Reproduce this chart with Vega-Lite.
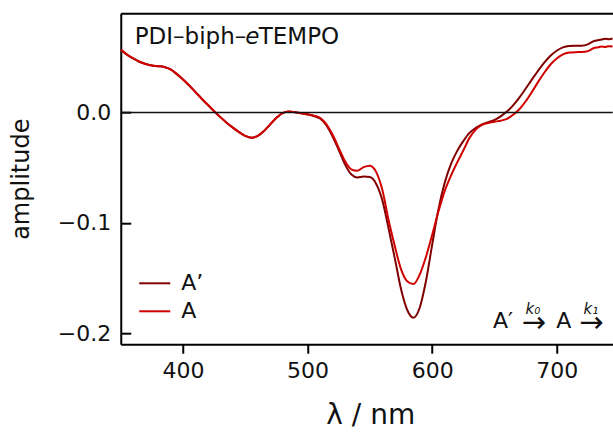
{
  "$schema": "https://vega.github.io/schema/vega-lite/v6.json",
  "autosize": {"type": "none"},
  "padding": {"left": 120.75, "top": 13.2, "right": 0, "bottom": 87.8},
  "width": 492,
  "height": 331,
  "config": {
    "view": {"stroke": null},
    "font": "DejaVu Sans",
    "axis": {"grid": false, "labelFont": "DejaVu Sans", "titleFont": "DejaVu Sans", "labelColor": "#111111", "titleColor": "#111111", "domainColor": "#000000", "tickColor": "#000000", "domainWidth": 2, "tickWidth": 2, "titleFontWeight": "normal"}
  },
  "resolve": {"axis": {"x": "independent", "y": "independent"}},
  "layer": [
    {
      "data": {"values": [
        {"wavelength": 350, "a": 0.057, "b": 0.057},
        {"wavelength": 355, "a": 0.0525, "b": 0.0525},
        {"wavelength": 360, "a": 0.049, "b": 0.049},
        {"wavelength": 365, "a": 0.046, "b": 0.046},
        {"wavelength": 370, "a": 0.044, "b": 0.044},
        {"wavelength": 375, "a": 0.0425, "b": 0.0425},
        {"wavelength": 380, "a": 0.042, "b": 0.042},
        {"wavelength": 385, "a": 0.0412, "b": 0.0412},
        {"wavelength": 390, "a": 0.039, "b": 0.039},
        {"wavelength": 395, "a": 0.0348, "b": 0.0348},
        {"wavelength": 400, "a": 0.030, "b": 0.030},
        {"wavelength": 405, "a": 0.0245, "b": 0.0245},
        {"wavelength": 410, "a": 0.0185, "b": 0.0185},
        {"wavelength": 415, "a": 0.0125, "b": 0.0125},
        {"wavelength": 420, "a": 0.0068, "b": 0.0068},
        {"wavelength": 425, "a": 0.0012, "b": 0.0012},
        {"wavelength": 430, "a": -0.0042, "b": -0.0042},
        {"wavelength": 435, "a": -0.0092, "b": -0.0092},
        {"wavelength": 440, "a": -0.0137, "b": -0.0137},
        {"wavelength": 445, "a": -0.0178, "b": -0.0178},
        {"wavelength": 450, "a": -0.0212, "b": -0.0212},
        {"wavelength": 455, "a": -0.0228, "b": -0.0228},
        {"wavelength": 460, "a": -0.0212, "b": -0.0212},
        {"wavelength": 465, "a": -0.0168, "b": -0.0168},
        {"wavelength": 470, "a": -0.0108, "b": -0.0108},
        {"wavelength": 475, "a": -0.0048, "b": -0.0048},
        {"wavelength": 480, "a": -0.0005, "b": -0.0005},
        {"wavelength": 485, "a": 0.0008, "b": 0.0008},
        {"wavelength": 490, "a": 0.0002, "b": 0.0002},
        {"wavelength": 495, "a": -0.0008, "b": -0.0008},
        {"wavelength": 500, "a": -0.0018, "b": -0.0015},
        {"wavelength": 505, "a": -0.0032, "b": -0.0028},
        {"wavelength": 510, "a": -0.0055, "b": -0.0048},
        {"wavelength": 515, "a": -0.0115, "b": -0.0105},
        {"wavelength": 520, "a": -0.0215, "b": -0.0200},
        {"wavelength": 525, "a": -0.0340, "b": -0.0320},
        {"wavelength": 530, "a": -0.0470, "b": -0.0440},
        {"wavelength": 535, "a": -0.0560, "b": -0.0515},
        {"wavelength": 540, "a": -0.0588, "b": -0.0528},
        {"wavelength": 545, "a": -0.0580, "b": -0.0495},
        {"wavelength": 550, "a": -0.0585, "b": -0.0482},
        {"wavelength": 555, "a": -0.0645, "b": -0.0538},
        {"wavelength": 560, "a": -0.0795, "b": -0.0700},
        {"wavelength": 565, "a": -0.1050, "b": -0.0975},
        {"wavelength": 570, "a": -0.1320, "b": -0.1210},
        {"wavelength": 575, "a": -0.1600, "b": -0.1420},
        {"wavelength": 580, "a": -0.1790, "b": -0.1530},
        {"wavelength": 585, "a": -0.1860, "b": -0.1555},
        {"wavelength": 590, "a": -0.1770, "b": -0.1470},
        {"wavelength": 595, "a": -0.1530, "b": -0.1310},
        {"wavelength": 600, "a": -0.1200, "b": -0.1110},
        {"wavelength": 605, "a": -0.0880, "b": -0.0900},
        {"wavelength": 610, "a": -0.0640, "b": -0.0715},
        {"wavelength": 615, "a": -0.0470, "b": -0.0575},
        {"wavelength": 620, "a": -0.0350, "b": -0.0455},
        {"wavelength": 625, "a": -0.0260, "b": -0.0345},
        {"wavelength": 630, "a": -0.0185, "b": -0.0230},
        {"wavelength": 635, "a": -0.0140, "b": -0.0155},
        {"wavelength": 640, "a": -0.0108, "b": -0.0112},
        {"wavelength": 645, "a": -0.0088, "b": -0.0095},
        {"wavelength": 650, "a": -0.0068, "b": -0.0084},
        {"wavelength": 655, "a": -0.0035, "b": -0.0074},
        {"wavelength": 660, "a": 0.0008, "b": -0.0058},
        {"wavelength": 665, "a": 0.0065, "b": -0.0020},
        {"wavelength": 670, "a": 0.0135, "b": 0.0030},
        {"wavelength": 675, "a": 0.0215, "b": 0.0100},
        {"wavelength": 680, "a": 0.0298, "b": 0.0185},
        {"wavelength": 685, "a": 0.0378, "b": 0.0275},
        {"wavelength": 690, "a": 0.0452, "b": 0.0360},
        {"wavelength": 695, "a": 0.0515, "b": 0.0435},
        {"wavelength": 700, "a": 0.0560, "b": 0.0490},
        {"wavelength": 705, "a": 0.0590, "b": 0.0527},
        {"wavelength": 710, "a": 0.0603, "b": 0.0543},
        {"wavelength": 715, "a": 0.0606, "b": 0.0547},
        {"wavelength": 720, "a": 0.0606, "b": 0.0548},
        {"wavelength": 725, "a": 0.0618, "b": 0.0556},
        {"wavelength": 730, "a": 0.0648, "b": 0.0585},
        {"wavelength": 733, "a": 0.0655, "b": 0.0590},
        {"wavelength": 736, "a": 0.0662, "b": 0.0598},
        {"wavelength": 739, "a": 0.0668, "b": 0.0594},
        {"wavelength": 742, "a": 0.0664, "b": 0.0601},
        {"wavelength": 745, "a": 0.0670, "b": 0.0599}
      ]},
      "transform": [
        {"fold": ["a", "b"], "as": ["key", "amplitude"]},
        {"lookup": "key", "from": {"data": {"values": [{"key": "a", "series": "A’"}, {"key": "b", "series": "A"}]}, "key": "key", "fields": ["series"]}}
      ],
      "mark": {"type": "line", "strokeWidth": 2, "interpolate": "monotone", "clip": true},
      "encoding": {
        "x": {"field": "wavelength", "type": "quantitative",
              "scale": {"domain": [350, 745], "nice": false, "zero": false},
              "axis": {"values": [400, 500, 600, 700], "title": "λ / nm", "titleFontSize": 28, "titleX": 249.5, "titlePadding": 20, "labelFontSize": 22, "tickSize": 9, "labelPadding": 7, "orient": "bottom"}},
        "y": {"field": "amplitude", "type": "quantitative",
              "scale": {"domain": [-0.21, 0.09], "nice": false, "zero": false},
              "axis": {"values": [-0.2, -0.1, 0.0], "format": ".1f", "title": "amplitude", "titleFontSize": 24, "titlePadding": 24, "labelFontSize": 22, "tickSize": -10, "labelPadding": 20}},
        "color": {"field": "series", "type": "nominal",
                  "scale": {"domain": ["A’", "A"], "range": ["#800000", "#d00000"]},
                  "legend": {"orient": "none", "legendX": 17.5, "legendY": 253.6, "title": null, "symbolType": "stroke", "symbolSize": 961, "symbolStrokeWidth": 2, "labelFont": "DejaVu Sans", "labelFontSize": 22, "labelColor": "#111111", "labelOffset": 10, "rowPadding": 0, "padding": 0}},
        "order": {"field": "key", "type": "nominal"}
      }
    },
    {
      "data": {"values": [{"x0": 350, "x1": 745, "y0": 0}]},
      "mark": {"type": "rule", "color": "#111111", "strokeWidth": 1.5},
      "encoding": {
        "x": {"field": "x0", "type": "quantitative", "axis": {"orient": "top", "labels": false, "ticks": false, "title": null, "domain": true}},
        "x2": {"field": "x1"},
        "y": {"field": "y0", "type": "quantitative", "axis": null}
      }
    },
    {
      "data": {"values": [{"label": "PDI–biph–", "lx": 350, "ly": 0.0622}]},
      "mark": {"type": "text", "align": "left", "baseline": "alphabetic", "fontSize": 23, "color": "#111111", "dx": 14},
      "encoding": {"x": {"field": "lx", "type": "quantitative", "axis": null}, "y": {"field": "ly", "type": "quantitative", "axis": null}, "text": {"field": "label"}}
    },
    {
      "data": {"values": [{"label": "e", "lx": 350, "ly": 0.0622}]},
      "mark": {"type": "text", "align": "left", "baseline": "alphabetic", "fontSize": 23, "fontStyle": "italic", "color": "#111111", "dx": 124.5},
      "encoding": {"x": {"field": "lx", "type": "quantitative", "axis": null}, "y": {"field": "ly", "type": "quantitative", "axis": null}, "text": {"field": "label"}}
    },
    {
      "data": {"values": [{"label": "TEMPO", "lx": 350, "ly": 0.0622}]},
      "mark": {"type": "text", "align": "left", "baseline": "alphabetic", "fontSize": 23, "color": "#111111", "dx": 138},
      "encoding": {"x": {"field": "lx", "type": "quantitative", "axis": null}, "y": {"field": "ly", "type": "quantitative", "axis": null}, "text": {"field": "label"}}
    },
    {
      "data": {"values": [{"label": "A′", "lx": 648.8, "ly": -0.1956}, {"label": "A", "lx": 699.6, "ly": -0.1956}]},
      "mark": {"type": "text", "align": "left", "baseline": "alphabetic", "fontSize": 22, "color": "#111111"},
      "encoding": {"x": {"field": "lx", "type": "quantitative", "axis": null}, "y": {"field": "ly", "type": "quantitative", "axis": null}, "text": {"field": "label"}}
    },
    {
      "data": {"values": [{"label": "→", "lx": 672.0, "ly": -0.1956}, {"label": "→", "lx": 718.1, "ly": -0.1956}]},
      "mark": {"type": "text", "align": "left", "baseline": "alphabetic", "fontSize": 29, "color": "#111111", "dy": 4},
      "encoding": {"x": {"field": "lx", "type": "quantitative", "axis": null}, "y": {"field": "ly", "type": "quantitative", "axis": null}, "text": {"field": "label"}}
    },
    {
      "data": {"values": [{"label": "k₀", "lx": 675.0, "ly": -0.1830}, {"label": "k₁", "lx": 721.5, "ly": -0.1830}]},
      "mark": {"type": "text", "align": "left", "baseline": "alphabetic", "fontSize": 15, "fontStyle": "italic", "color": "#111111"},
      "encoding": {"x": {"field": "lx", "type": "quantitative", "axis": null}, "y": {"field": "ly", "type": "quantitative", "axis": null}, "text": {"field": "label"}}
    }
  ]
}
